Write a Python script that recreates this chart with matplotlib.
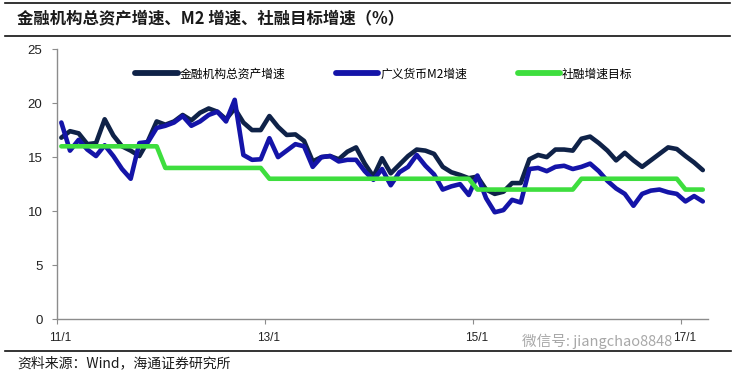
import matplotlib
matplotlib.use("Agg")
import matplotlib.pyplot as plt
from matplotlib.lines import Line2D
import matplotlib.transforms as mtransforms
import numpy as np

# ---- data (monthly, 2011/1 .. 2017/3) ----
total_assets = [16.8, 17.4, 17.2, 16.2, 16.3, 18.5, 17.0, 16.0, 15.6, 15.1, 16.5, 18.3,
                18.0, 18.3, 18.9, 18.4, 19.1, 19.5, 19.2, 18.5, 19.5, 18.2, 17.5, 17.5,
                18.8, 17.8, 17.05, 17.1, 16.5, 14.6, 15.0, 15.1, 14.8, 15.5, 15.9, 14.4,
                13.2, 14.9, 13.5, 14.3, 15.1, 15.7, 15.6, 15.3, 14.1, 13.6, 13.35, 13.05,
                13.2, 12.0, 11.6, 11.8, 12.6, 12.6, 14.8, 15.2, 15.0, 15.7, 15.7, 15.6,
                16.7, 16.9, 16.3, 15.6, 14.7, 15.4, 14.7, 14.1, 14.7, 15.3, 15.9, 15.75,
                15.1, 14.5, 13.8]
m2_growth = [18.2, 15.6, 16.6, 15.7, 15.1, 16.1, 15.1, 13.9, 13.0, 16.3, 16.4, 17.7,
             17.9, 18.2, 18.8, 17.9, 18.3, 18.9, 19.2, 18.3, 20.3, 15.2, 14.75, 14.8,
             16.75, 15.0, 15.6, 16.2, 16.0, 14.1, 15.0, 15.1, 14.6, 14.75, 14.75, 13.7,
             12.9, 13.9, 12.4, 13.6, 14.1, 15.2, 14.2, 13.4, 12.0, 12.3, 12.5, 11.5,
             13.3, 11.2, 9.9, 10.1, 11.05, 10.8, 13.9, 14.0, 13.7, 14.1, 14.2, 13.9,
             14.1, 14.4, 13.7, 12.8, 12.1, 11.6, 10.5, 11.6, 11.9, 12.0, 11.75, 11.6,
             10.9, 11.4, 10.9]
tsf_target = [16]*12 + [14]*12 + [13]*24 + [12]*12 + [13]*12 + [12]*3

tick_labels = ["11/1", "13/1", "15/1", "17/1"]
tick_months = [0, 24, 48, 72]
series_labels = ["金融机构总资产增速", "广义货币M2增速", "社融增速目标"]
title = "金融机构总资产增速、M2 增速、社融目标增速（%）"
source = "资料来源：Wind，海通证券研究所"
watermark = "微信号: jiangchao8848"

CJK = ["Noto Sans CJK SC", "DejaVu Sans"]
NUM = ["Liberation Sans", "DejaVu Sans"]

fig = plt.figure(figsize=(7.5, 3.77), dpi=100)
W, H = 750, 377
ax = fig.add_axes([57 / W, 57.7 / H, 651 / W, 270.3 / H])

x = np.arange(len(total_assets)) + 0.5
c_dark, c_blue, c_green = "#0f2248", "#1414a8", "#3ede3e"
lw = 3.3
kw = dict(lw=lw, solid_capstyle="round", solid_joinstyle="round")
l1, = ax.plot(x, total_assets, color=c_dark, **kw)
l2, = ax.plot(x, m2_growth, color=c_blue, **kw)
l3, = ax.plot(x, tsf_target, color=c_green, **kw)

ax.set_xlim(0, 75.1)
ax.set_ylim(0, 25)
ax.set_yticks(range(0, 26, 5))
ax.set_xticks(tick_months)
ax.set_xticklabels(tick_labels)
for s in ["top", "right"]:
    ax.spines[s].set_visible(False)
for s in ["left", "bottom"]:
    ax.spines[s].set_color("#8c8c8c")
    ax.spines[s].set_linewidth(1.0)
ax.tick_params(axis="y", direction="out", length=3.5, width=0.8, color="#8c8c8c",
               pad=7, labelsize=9.5, labelcolor="#222222")
ax.tick_params(axis="x", direction="out", length=3.5, width=0.8, color="#8c8c8c",
               pad=6, labelsize=8.5, labelcolor="#222222")
for t in ax.get_yticklabels() + ax.get_xticklabels():
    t.set_family(NUM)
shift = mtransforms.ScaledTranslation(3.5 / 100, 0, fig.dpi_scale_trans)
for t in ax.get_xticklabels():
    t.set_transform(t.get_transform() + shift)

leg = ax.legend([l1, l2, l3], series_labels, loc="center", bbox_to_anchor=(0.502, 0.9075),
                ncol=3, frameon=False, handlelength=3.6, handletextpad=0.15,
                columnspacing=4.3, prop={"family": CJK, "size": 8.5})
for line in leg.get_lines():
    line.set_linewidth(4.2)

# figure rules and texts
for yy, x0, x1 in [(3, 5, 730), (36, 5, 730), (351, 5, 731)]:
    fig.add_artist(Line2D([x0 / W, x1 / W], [1 - yy / H, 1 - yy / H],
                          transform=fig.transFigure, color="#111111", lw=1.2))
fig.text(17 / W, 1 - 18 / H, title, family=CJK, fontsize=11.8, fontweight="bold",
         va="center", ha="left", color="#1a1a1a")
fig.text(17 / W, 1 - 363 / H, source, family=CJK, fontsize=10, va="center", ha="left",
         color="#1a1a1a")
fig.text(672 / W, 1 - 341 / H, watermark, family=CJK, fontsize=10.5,
         va="center", ha="right", color="#a8a8a8")

fig.savefig("out.png", dpi=100)
